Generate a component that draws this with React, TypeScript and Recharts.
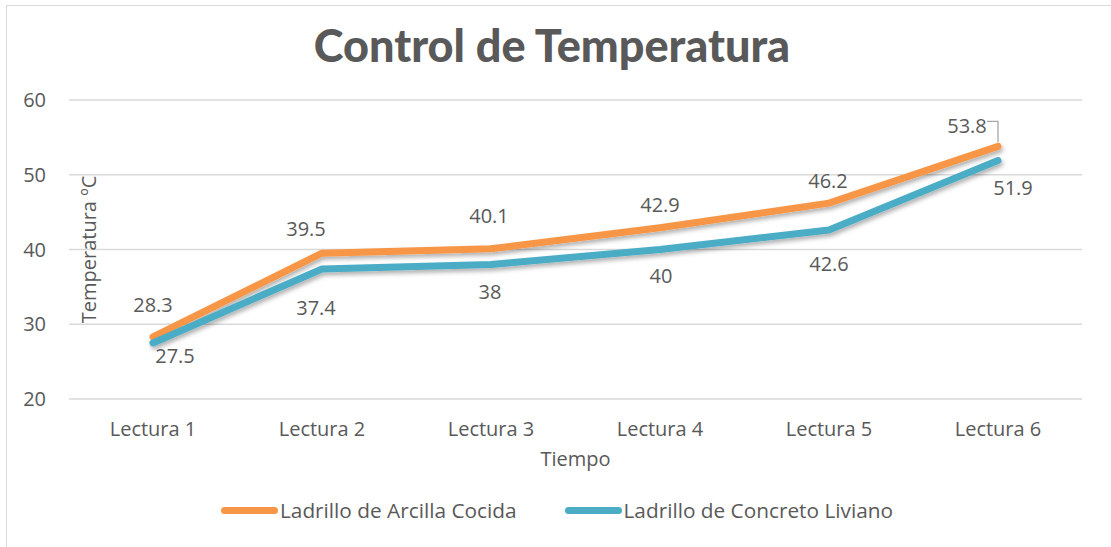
import React from 'react';
import { LineChart, Line, XAxis, YAxis, CartesianGrid, Legend } from 'recharts';

const categories = ['Lectura 1', 'Lectura 2', 'Lectura 3', 'Lectura 4', 'Lectura 5', 'Lectura 6'];
const arcilla = [28.3, 39.5, 40.1, 42.9, 46.2, 53.8];
const concreto = [27.5, 37.4, 38, 40, 42.6, 51.9];
const yTicks = [20, 30, 40, 50, 60];

const seriesNames = ['Ladrillo de Arcilla Cocida', 'Ladrillo de Concreto Liviano'];
const colors = ['#F79646', '#4BACC6'];

// label offsets from the point (Excel placed them by hand)
const arcillaOff = [[0, -32], [-16, -25], [-2, -33], [0, -23], [-1, -23], [-31, -21]];
const concretoOff = [[22, 13], [-6, 39], [-1, 27], [1, 26], [0, 33], [15, 27]];

const data = categories.map((name, i) => ({ name, arcilla: arcilla[i], concreto: concreto[i] }));

const FONT = '"Open Sans", sans-serif';
const TXT = '#595959';

function makeLabel(offs: number[][], leader: boolean) {
    return (props: any) => {
        const { x, y, index, value } = props;
        const [dx, dy] = offs[index];
        const lx = x + dx;
        const ly = y + dy;
        return (
            <g>
                {leader && index === offs.length - 1 && (
                    <polyline points={`${lx + 20},${ly - 4} ${x},${ly - 4} ${x},${y - 4}`}
                        fill="none" stroke="#a6a6a6" strokeWidth={1.3} />
                )}
                <text x={lx} y={ly} textAnchor="middle" dominantBaseline="central"
                    fill={TXT} fontSize={20} fontFamily={FONT}>{value}</text>
            </g>
        );
    };
}

const LegendContent = () => (
    <div style={{ display: 'flex', justifyContent: 'center', alignItems: 'center', height: 40, paddingLeft: 32 }}>
        {seriesNames.map((n, i) => (
            <div key={n} style={{ display: 'flex', alignItems: 'center', marginLeft: i ? 48 : 0 }}>
                <span style={{ display: 'inline-block', flexShrink: 0, width: 57, height: 7, borderRadius: 4, background: colors[i], marginRight: 2 }} />
                <span style={{ fontFamily: FONT, fontSize: 20.8, color: TXT, whiteSpace: 'nowrap' }}>{n}</span>
            </div>
        ))}
    </div>
);

export default function App() {
    return (
        <div style={{ position: 'absolute', left: 0, top: 0, width: 1111, height: 547, overflow: 'hidden', background: '#fff' }}>
            <div style={{ position: 'absolute', left: 6, top: 5, width: 1200, height: 600, border: '1.5px solid #d9d9d9' }} />
            <div style={{ position: 'absolute', left: 0, top: 0 }}>
                <LineChart width={1111} height={547} data={data} margin={{ top: 100, right: 29, bottom: 17, left: 0 }}>
                    <defs>
                        <filter id="shadow" x="-5%" y="-20%" width="110%" height="140%">
                            <feDropShadow dx="1.5" dy="3" stdDeviation="2" floodColor="#000" floodOpacity="0.3" />
                        </filter>
                    </defs>
                    <text x={552} y={62} textAnchor="middle" fill={TXT} fontSize={45} fontWeight={900}
                        fontFamily="Lato, sans-serif">Control de Temperatura</text>
                    <CartesianGrid vertical={false} stroke="#d9d9d9" strokeWidth={1.5} />
                    <XAxis dataKey="name" axisLine={false} tickLine={false} tickSize={0} tickMargin={23} height={91}
                        padding={{ left: 84, right: 84 }}
                        tick={{ fill: TXT, fontSize: 20, fontFamily: FONT }}
                        label={{ value: 'Tiempo', position: 'insideBottom', offset: 24, fill: TXT, fontSize: 20, fontFamily: FONT }} />
                    <YAxis domain={[20, 60]} ticks={yTicks} axisLine={false} tickLine={false} tickSize={0} tickMargin={23} width={69}
                        tick={{ fill: TXT, fontSize: 20, fontFamily: FONT }}
                        label={{
                            content: (p: any) => {
                                const vb = p.viewBox;
                                const cx = vb.x + vb.width + 19;
                                const cy = vb.y + vb.height / 2;
                                return (
                                    <text x={cx} y={cy} transform={`rotate(-90, ${cx}, ${cy})`} textAnchor="middle"
                                        dominantBaseline="central" fill={TXT} fontSize={20} fontFamily={FONT}>Temperatura ºC</text>
                                );
                            },
                        }} />
                    <Legend verticalAlign="bottom" content={<LegendContent />} />
                    <Line dataKey="arcilla" name={seriesNames[0]} stroke={colors[0]} strokeWidth={7} strokeLinecap="round"
                        strokeLinejoin="round" dot={false} filter="url(#shadow)" isAnimationActive={false}
                        label={makeLabel(arcillaOff, true)} />
                    <Line dataKey="concreto" name={seriesNames[1]} stroke={colors[1]} strokeWidth={7} strokeLinecap="round"
                        strokeLinejoin="round" dot={false} filter="url(#shadow)" isAnimationActive={false}
                        label={makeLabel(concretoOff, false)} />
                </LineChart>
            </div>
        </div>
    );
}
